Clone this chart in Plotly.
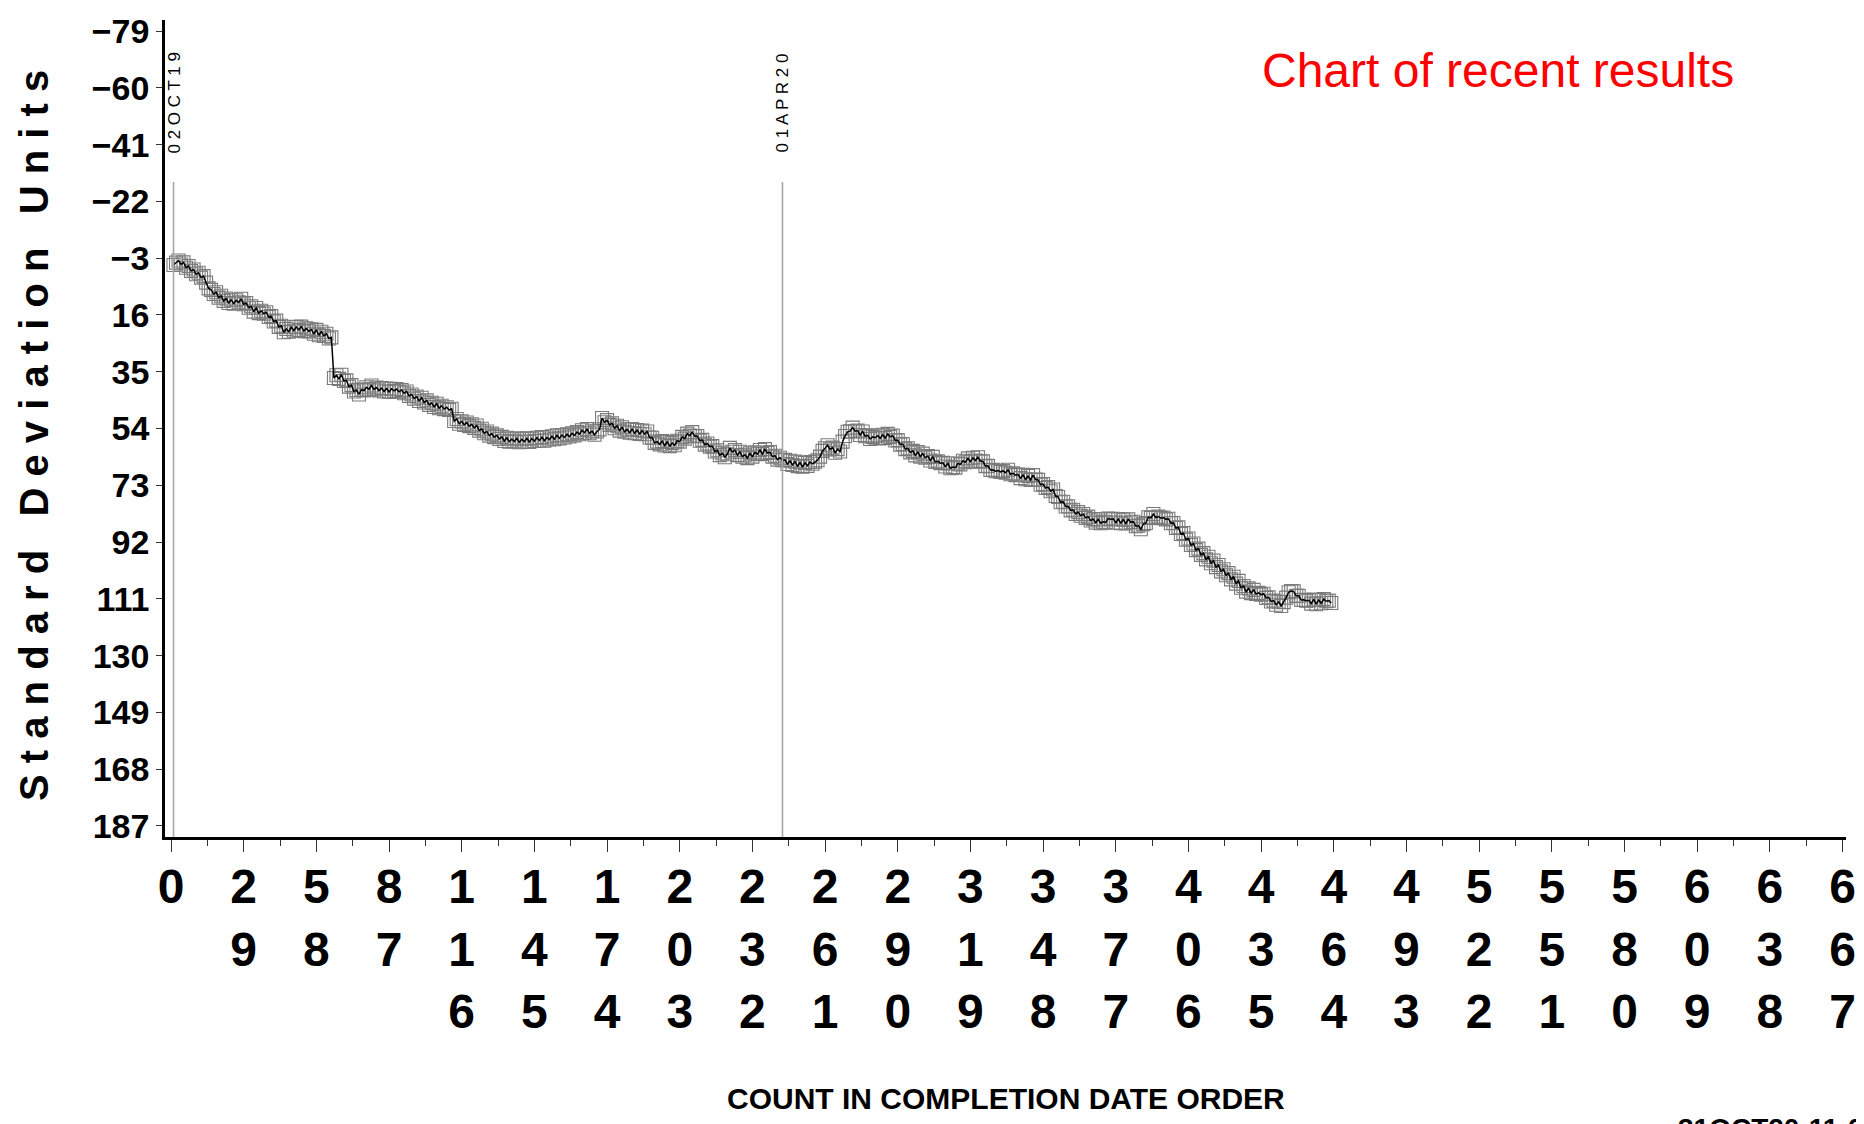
import plotly.graph_objects as go

# ---------------- data ----------------
sd_units = [
    -0.7, -1.5, -2.2, -0.9, -1.6, 0.2, -0.4, 1.3, 0.8, 2.4,
    1.9, 3.5, 3.0, 5.2, 7.1, 7.6, 9.0, 8.4, 10.2, 9.6,
    11.3, 10.5, 12.0, 10.9, 12.2, 11.1, 11.8, 10.6, 12.4, 12.0,
    13.6, 13.1, 14.9, 13.7, 15.4, 14.6, 15.6, 15.1, 16.7, 16.4,
    18.2, 17.9, 20.0, 19.6, 21.8, 20.7, 21.6, 20.1, 21.3, 20.0,
    21.0, 19.9, 21.4, 20.5, 21.5, 20.8, 22.3, 21.0, 22.8, 21.6,
    23.0, 22.3, 23.9, 23.5, 37.1, 36.2, 37.4, 36.0, 38.1, 37.9,
    40.0, 39.5, 41.6, 41.1, 42.6, 41.0, 41.3, 40.2, 40.9, 39.6,
    40.9, 40.3, 41.3, 40.5, 41.6, 40.6, 41.8, 40.7, 41.4, 40.8,
    41.7, 41.1, 42.2, 41.6, 43.1, 42.6, 44.0, 43.3, 44.8, 43.7,
    45.3, 44.6, 46.1, 45.4, 46.8, 45.7, 47.2, 46.4, 47.5, 46.9,
    47.8, 47.4, 51.5, 50.8, 52.4, 51.6, 52.8, 52.0, 53.2, 52.6,
    53.8, 53.0, 54.7, 54.1, 55.6, 55.0, 56.4, 55.7, 56.9, 56.3,
    57.5, 56.8, 58.2, 57.1, 58.4, 57.6, 58.3, 57.3, 58.6, 57.6,
    58.4, 57.3, 58.5, 57.4, 58.2, 57.1, 58.0, 56.9, 58.1, 57.0,
    57.7, 56.6, 57.6, 56.3, 57.3, 56.2, 57.0, 55.9, 56.7, 55.6,
    56.3, 55.2, 55.9, 54.6, 55.4, 54.2, 55.6, 54.9, 56.1, 55.0,
    54.3, 50.5, 51.9, 51.2, 52.8, 52.3, 53.9, 53.1, 54.7, 53.6,
    55.1, 54.3, 55.4, 54.2, 55.6, 54.5, 55.8, 54.7, 55.9, 55.0,
    57.0, 57.1, 58.8, 58.4, 59.3, 58.2, 59.7, 58.5, 59.9, 58.9,
    59.6, 58.1, 58.4, 56.8, 57.4, 55.7, 56.4, 55.2, 56.6, 56.5,
    58.1, 57.8, 59.4, 59.0, 60.1, 59.9, 61.7, 61.3, 62.9, 62.3,
    63.6, 62.6, 60.5, 61.8, 61.2, 62.9, 61.8, 63.4, 62.8, 63.9,
    62.3, 63.4, 62.0, 62.6, 61.2, 62.5, 60.9, 62.2, 61.9, 63.4,
    63.1, 64.4, 63.8, 64.6, 64.5, 65.9, 64.8, 66.2, 65.1, 66.6,
    65.4, 66.8, 65.5, 66.5, 65.2, 65.8, 65.1, 64.6, 63.4, 61.5,
    60.6, 59.6, 61.0, 60.4, 62.1, 60.9, 61.7, 58.4, 56.5, 55.1,
    54.9, 53.7, 54.9, 54.7, 56.2, 55.0, 56.6, 56.3, 57.5, 56.8,
    57.1, 56.4, 57.3, 56.1, 57.2, 55.8, 56.8, 56.4, 58.0, 57.9,
    59.4, 59.2, 60.9, 60.6, 62.0, 61.5, 63.0, 61.9, 63.4, 62.4,
    63.8, 63.2, 64.7, 63.5, 65.2, 65.0, 65.6, 65.5, 66.7, 65.7,
    67.3, 66.9, 67.1, 65.7, 66.0, 64.8, 65.3, 64.0, 65.1, 63.8,
    64.7, 63.6, 65.0, 65.0, 66.6, 66.5, 67.9, 67.8, 68.3, 68.1,
    68.5, 68.2, 68.8, 67.8, 69.3, 69.0, 69.6, 69.4, 70.6, 69.5,
    71.0, 69.9, 71.2, 69.6, 71.1, 71.2, 72.8, 72.6, 73.9, 73.6,
    75.0, 74.4, 76.6, 76.9, 78.7, 78.5, 80.1, 80.0, 81.4, 81.2,
    82.6, 82.0, 83.2, 82.6, 83.9, 83.5, 84.8, 84.3, 85.5, 84.4,
    85.7, 85.2, 85.4, 84.1, 84.4, 84.2, 85.5, 84.3, 85.7, 84.5,
    85.8, 84.4, 85.4, 85.2, 86.7, 86.5, 87.7, 86.0, 85.6, 83.7,
    83.9, 82.6, 83.8, 83.5, 84.0, 83.8, 84.4, 84.2, 85.7, 85.6,
    87.3, 87.1, 89.3, 89.0, 91.2, 90.8, 93.0, 92.5, 94.7, 94.2,
    96.3, 95.7, 97.8, 96.9, 99.1, 98.2, 100.4, 99.7, 101.8, 101.1,
    103.1, 102.4, 104.5, 103.6, 105.9, 105.0, 107.3, 106.7, 108.6, 107.5,
    109.1, 108.0, 109.4, 109.0, 109.6, 109.3, 110.7, 110.5, 111.9, 111.6,
    113.0, 112.0, 113.4, 112.1, 110.6, 108.8, 108.4, 108.5, 110.0, 110.0,
    111.4, 111.3, 111.6, 111.5, 112.6, 111.2, 112.8, 111.4, 112.5, 111.1,
    111.8, 111.6, 112.4,
]
counts = list(range(1, len(sd_units) + 1))

y_tick_vals = [-79, -60, -41, -22, -3, 16, 35, 54, 73, 92, 111, 130, 149, 168, 187]
x_tick_vals = [0, 29, 58, 87, 116, 145, 174, 203, 232, 261, 290, 319, 348, 377,
               406, 435, 464, 493, 522, 551, 580, 609, 638, 667]

date_labels = ["02OCT19", "01APR20"]
date_counts = [1, 244]

title_text = "Chart of recent results"
y_title = "Standard Deviation Units"
x_title = "COUNT IN COMPLETION DATE ORDER"
stamp_text = "31OCT20:11:04"

# ---------------- helpers ----------------
ARIAL = "Liberation Sans, Arial, Helvetica, sans-serif"

def spaced(s):
    words = s.split(" ")
    return "\u00a0\u00a0\u00a0".join(" ".join(list(w)) for w in words)

y_tick_text = [str(v).replace("-", "\u2212") for v in y_tick_vals]
x_tick_text = ["<br>".join(list(str(v))) for v in x_tick_vals]
x_minor_vals = [(a + b) / 2 for a, b in zip(x_tick_vals[:-1], x_tick_vals[1:])]

# ---------------- figure ----------------
W, H = 1864, 1124
L, R, T, B = 157, 26, 12, 295
PW, PH = W - L - R, H - T - B

def px_to_paper_x(px):
    return (px - L) / PW

def px_to_paper_y(py):
    return (H - B - py) / PH

fig = go.Figure()
fig.add_trace(go.Scatter(
    x=counts, y=sd_units, mode="markers",
    marker=dict(symbol="square-open", size=13, color="#7a7a7a", line=dict(width=1.1)),
    hoverinfo="skip", showlegend=False,
))
fig.add_trace(go.Scatter(
    x=counts, y=sd_units, mode="lines",
    line=dict(color="black", width=1.5),
    showlegend=False,
))

for lab, c in zip(date_labels, date_counts):
    fig.add_shape(type="line", xref="x", yref="paper", x0=c, x1=c,
                  y0=0, y1=px_to_paper_y(174),
                  line=dict(color="#a8a8a8", width=1.6))
    fig.add_annotation(x=c, xref="x", y=px_to_paper_y(95), yref="paper",
                       text=" ".join(list(lab)), textangle=-90, showarrow=False,
                       xanchor="center", yanchor="middle",
                       font=dict(family=ARIAL, size=17, color="black"))

fig.add_annotation(x=px_to_paper_x(1490), xref="paper", y=px_to_paper_y(63), yref="paper",
                   text=title_text, showarrow=False, xanchor="center", yanchor="middle",
                   font=dict(family=ARIAL, size=48, color="#ff0000"))

fig.add_annotation(x=px_to_paper_x(26), xref="paper", y=px_to_paper_y(428), yref="paper",
                   text=spaced(y_title), textangle=-90, showarrow=False,
                   xanchor="center", yanchor="middle",
                   font=dict(family=ARIAL, size=40, color="black", weight="bold"))

fig.add_annotation(x=0.5, xref="paper", y=px_to_paper_y(1090), yref="paper",
                   text=x_title, showarrow=False, xanchor="center", yanchor="middle",
                   font=dict(family=ARIAL, size=30, color="black", weight="bold"))

fig.add_annotation(x=px_to_paper_x(1668), xref="paper", y=px_to_paper_y(1120), yref="paper",
                   text=stamp_text, showarrow=False, xanchor="left", yanchor="middle",
                   font=dict(family=ARIAL, size=28, color="black", weight="bold"))

fig.update_layout(
    width=W, height=H,
    margin=dict(l=L, r=R, t=T, b=B, pad=0),
    paper_bgcolor="white", plot_bgcolor="white",
    showlegend=False,
    xaxis=dict(
        range=[-2.4, 668.4], showgrid=False, zeroline=False, automargin=False,
        showline=True, linecolor="black", linewidth=2.5,
        tickmode="array", tickvals=x_tick_vals, ticktext=x_tick_text,
        ticks="outside", ticklen=12, tickwidth=1, tickcolor="#333333",
        ticklabelstandoff=-6,
        tickfont=dict(family=ARIAL, size=48, color="black", weight="bold"),
        minor=dict(tickvals=x_minor_vals, ticks="outside", ticklen=6,
                   tickwidth=1, tickcolor="#333333"),
    ),
    yaxis=dict(
        range=[190.7, -82.7], showgrid=False, zeroline=False, automargin=False,
        showline=True, linecolor="black", linewidth=2.5,
        tickmode="array", tickvals=y_tick_vals, ticktext=y_tick_text,
        ticks="outside", ticklen=6, tickwidth=1, tickcolor="#333333",
        tickfont=dict(family=ARIAL, size=34, color="black", weight="bold"),
    ),
)

fig.write_html("out.html")
